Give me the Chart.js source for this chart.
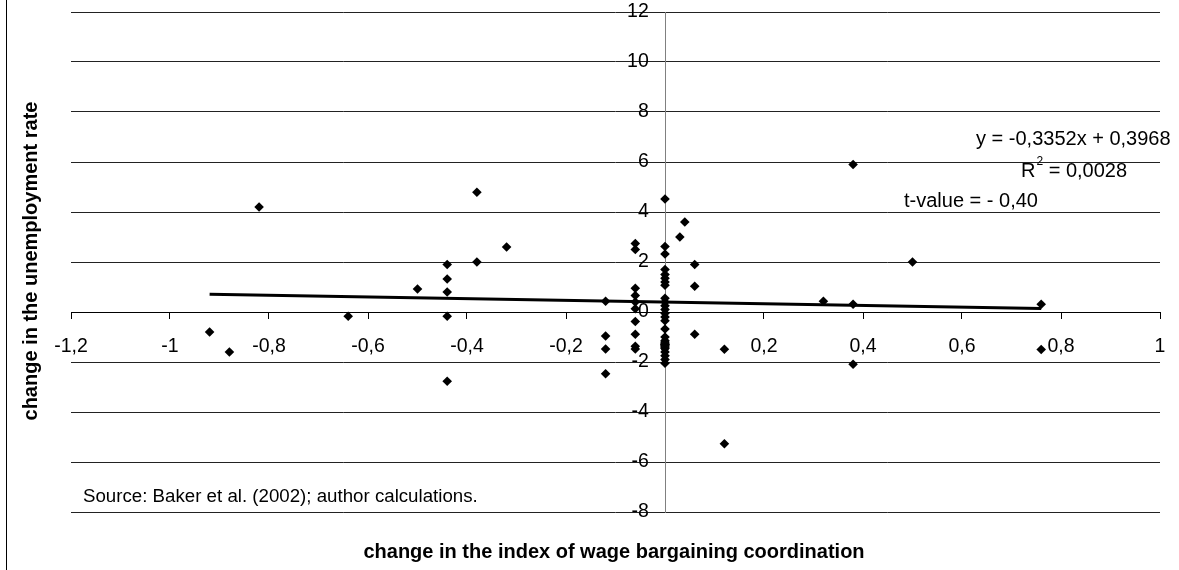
<!DOCTYPE html>
<html>
<head>
<meta charset="utf-8">
<script src="https://cdn.jsdelivr.net/npm/chart.js@4.4.1/dist/chart.umd.min.js"></script>
<style>
  html, body { margin: 0; padding: 0; background: #fff; }
  canvas { display: block; }
</style>
</head>
<body>
<canvas id="chart" width="1179" height="570"></canvas>
<script>
// change in the index of wage bargaining coordination (x) per country/period
const coordChange = [
  -0.92, -0.88, -0.82, -0.64, -0.5,
  -0.44, -0.44, -0.44, -0.44, -0.44,
  -0.38, -0.38, -0.32,
  -0.12, -0.12, -0.12, -0.12,
  -0.06, -0.06, -0.06, -0.06, -0.06, -0.06, -0.06, -0.06, -0.06, -0.06,
  0, 0, 0, 0, 0, 0, 0, 0, 0, 0, 0, 0, 0, 0, 0, 0, 0, 0, 0, 0, 0, 0, 0, 0,
  0.03, 0.04, 0.06, 0.06, 0.06, 0.12, 0.12, 0.32, 0.38, 0.38, 0.38, 0.5, 0.76, 0.76
];
// change in the unemployment rate (y), same order
const unempChange = [
  -0.8, -1.6, 4.2, -0.17, 0.92,
  1.9, 1.32, 0.8, -0.17, -2.77,
  4.79, 2.0, 2.6,
  0.43, -0.96, -1.48, -2.47,
  2.74, 2.5, 0.95, 0.66, 0.4, 0.13, -0.38, -0.89, -1.37, -1.48,
  4.52, 2.62, 2.32, 1.7, 1.5, 1.35, 1.2, 1.07, 0.55, 0.4, 0.25, 0.1, -0.05, -0.2, -0.35, -0.68,
  -1.0, -1.15, -1.3, -1.45, -1.6, -1.75, -1.9, -2.05,
  3.0, 3.6, 1.9, 1.03, -0.89, -1.49, -5.27, 0.43, 5.9, 0.31, -2.09, 2.0, 0.31, -1.5
];

// linear trend line end points (y = -0,3352x + 0,3968)
const trendX = [-0.92, 0.76];
const trendY = [0.71, 0.14];

const xTickValues = [-1.2, -1, -0.8, -0.6, -0.4, -0.2, 0, 0.2, 0.4, 0.6, 0.8, 1];
const xTickLabels = ['-1,2', '-1', '-0,8', '-0,6', '-0,4', '-0,2', '0', '0,2', '0,4', '0,6', '0,8', '1'];
const yTickValues = [-8, -6, -4, -2, 0, 2, 4, 6, 8, 10, 12];
const yTickLabels = ['-8', '-6', '-4', '-2', '0', '2', '4', '6', '8', '10', '12'];

const FONT = '"Liberation Sans", Arial, sans-serif';

// the crossing axes should not eat any room of the plot area
function noRoom(s) {
  if (s.isHorizontal()) s.height = 0; else s.width = 0;
  s.paddingLeft = s.paddingRight = s.paddingTop = s.paddingBottom = 0;
}

const textPlugin = {
  id: 'chartText',
  beforeDraw(chart) {
    const ctx = chart.ctx;
    ctx.save();
    ctx.strokeStyle = '#000';
    ctx.lineWidth = 1;
    ctx.beginPath();
    ctx.moveTo(6.5, 0);
    ctx.lineTo(6.5, chart.height);
    ctx.stroke();
    ctx.restore();
  },
  afterDraw(chart) {
    const ctx = chart.ctx;
    ctx.save();
    ctx.fillStyle = '#000';
    ctx.textBaseline = 'middle';
    ctx.textAlign = 'left';

    ctx.font = '20px ' + FONT;
    ctx.fillText('y = -0,3352x + 0,3968', 976, 139);

    // R² with a raised small 2
    ctx.fillText('R', 1021, 171);
    const rw = ctx.measureText('R').width;
    ctx.font = '12px ' + FONT;
    ctx.fillText('2', 1021 + rw + 1, 162);
    const tw = ctx.measureText('2').width;
    ctx.font = '20px ' + FONT;
    ctx.fillText(' = 0,0028', 1021 + rw + tw + 1, 171);

    ctx.fillText('t-value = - 0,40', 904, 201);

    ctx.font = '18.7px ' + FONT;
    ctx.fillText('Source: Baker et al. (2002); author calculations.', 83, 497);

    ctx.font = 'bold 20px ' + FONT;
    ctx.textAlign = 'center';
    ctx.fillText('change in the index of wage bargaining coordination', 614, 552);

    ctx.translate(31, 261);
    ctx.rotate(-Math.PI / 2);
    ctx.fillText('change in the unemployment rate', 0, 0);
    ctx.restore();
  }
};

const tickFont = { family: FONT, size: 19.5 };

new Chart(document.getElementById('chart'), {
  type: 'scatter',
  data: {
    datasets: [
      {
        label: 'observations',
        data: coordChange.map((x, i) => ({ x: x, y: unempChange[i] })),
        pointStyle: 'rectRot',
        pointRadius: 4.8,
        backgroundColor: '#000',
        borderColor: '#000',
        borderWidth: 0
      },
      {
        label: 'linear trend',
        type: 'line',
        data: trendX.map((x, i) => ({ x: x, y: trendY[i] })),
        borderColor: '#000',
        borderWidth: 3,
        pointRadius: 0,
        fill: false
      }
    ]
  },
  options: {
    responsive: false,
    animation: false,
    layout: { padding: { left: 71, right: 19, top: 12, bottom: 58 } },
    plugins: {
      legend: { display: false },
      tooltip: { enabled: false }
    },
    scales: {
      x: {
        type: 'linear',
        min: -1.2,
        max: 1,
        position: { y: 0 },
        afterFit: noRoom,
        afterBuildTicks: s => { s.ticks = xTickValues.map(v => ({ value: v })); },
        ticks: {
          callback: (v, i) => xTickLabels[i],
          font: tickFont,
          color: '#000',
          padding: 17,
          maxRotation: 0,
          autoSkip: false
        },
        grid: { drawOnChartArea: false, drawTicks: true, tickLength: 6, color: '#000' },
        border: { color: '#000', width: 1 }
      },
      y: {
        type: 'linear',
        min: -8,
        max: 12,
        position: { x: 0 },
        afterFit: noRoom,
        afterBuildTicks: s => { s.ticks = yTickValues.map(v => ({ value: v })); },
        ticks: {
          // labels sit on the crossing axis, keep a gap like the original
          callback: (v, i) => yTickLabels[i] + '\u00a0\u00a0\u00a0',
          font: tickFont,
          color: '#000',
          padding: 0,
          autoSkip: false
        },
        grid: { drawOnChartArea: true, drawTicks: true, tickLength: 6, color: '#222' },
        border: { color: '#808080', width: 1 }
      }
    }
  },
  plugins: [textPlugin]
});
</script>
</body>
</html>
